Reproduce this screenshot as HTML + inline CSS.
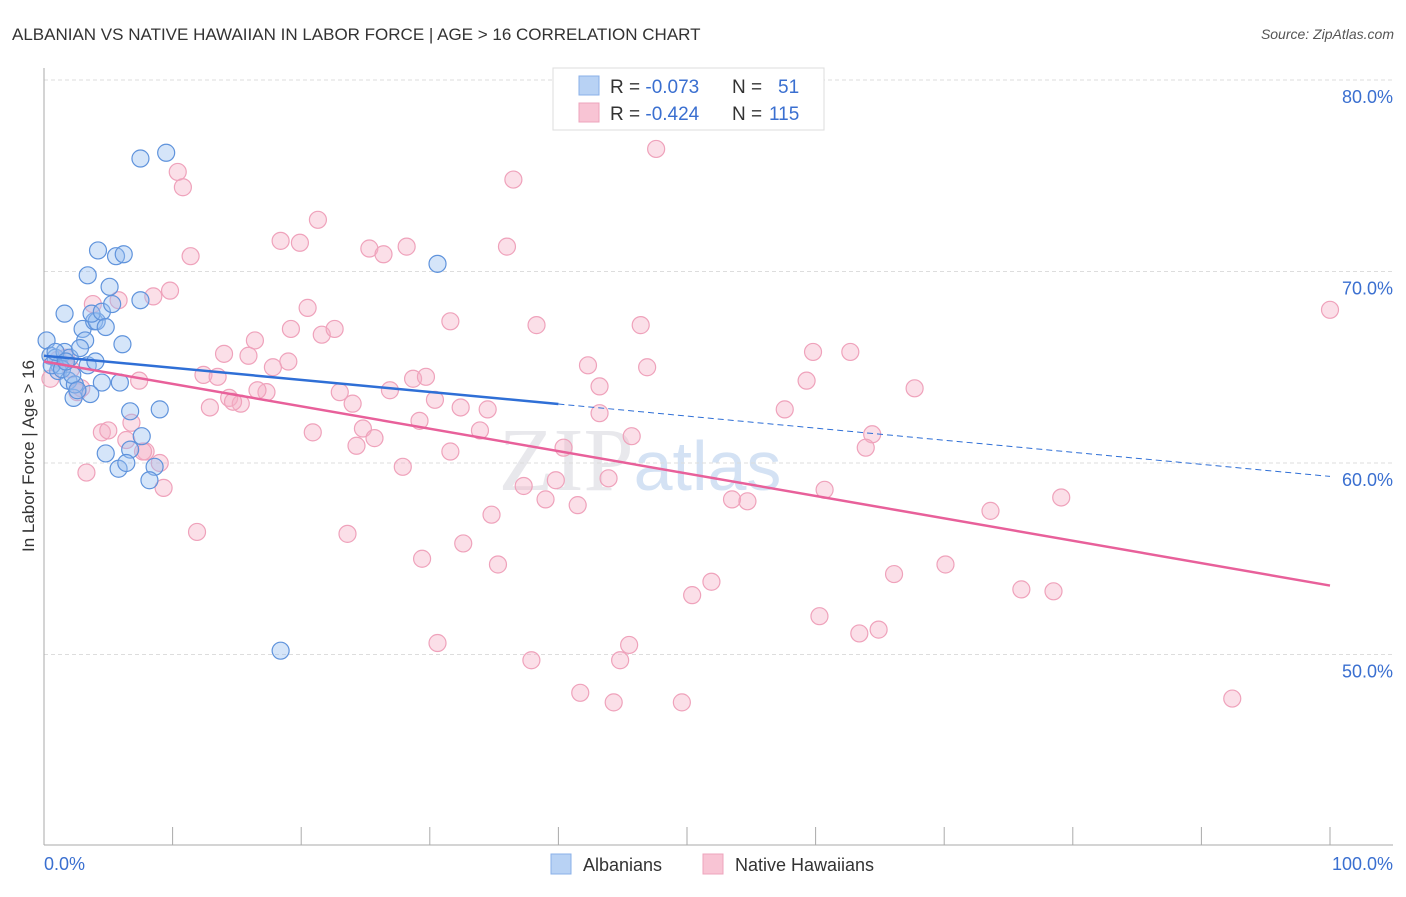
<!DOCTYPE html>
<html><head><meta charset="utf-8"><style>
body{margin:0;background:#fff;font-family:"Liberation Sans",sans-serif}
</style></head><body>
<svg id="c" width="1406" height="892" xmlns="http://www.w3.org/2000/svg">
<text x="12" y="40" font-size="17" fill="#333">ALBANIAN VS NATIVE HAWAIIAN IN LABOR FORCE | AGE &gt; 16 CORRELATION CHART</text>
<text x="1394" y="39" font-size="14" fill="#555" font-style="italic" text-anchor="end">Source: ZipAtlas.com</text>
<text x="640" y="490" font-size="90" fill="#e8e8ec" font-family="Liberation Serif,serif" text-anchor="middle">ZIP<tspan fill="#d4e2f4" font-family="Liberation Sans,sans-serif" font-size="70">atlas</tspan></text>
<text transform="translate(34,456) rotate(-90)" font-size="17" fill="#333" text-anchor="middle">In Labor Force | Age &gt; 16</text>
<g id="grid"></g><g id="axes"></g><g id="pts"></g><g id="lines"></g>
<g>
<rect x="553" y="68" width="271" height="62" fill="#fff" stroke="#ddd"/>
<rect x="579" y="76" width="20" height="19" fill="#b8d2f4" stroke="#8ab0e8"/>
<rect x="579" y="103" width="20" height="19" fill="#f8c4d4" stroke="#eea4bc"/>
<text x="610" y="93" font-size="19" fill="#333">R = <tspan fill="#3a6fd0">-0.073</tspan><tspan x="732">N = </tspan><tspan x="778" fill="#3a6fd0">51</tspan></text>
<text x="610" y="120" font-size="19" fill="#333">R = <tspan fill="#3a6fd0">-0.424</tspan><tspan x="732">N = </tspan><tspan x="769" fill="#3a6fd0">115</tspan></text>
</g>
<g>
<rect x="551" y="854" width="20" height="20" fill="#b8d2f4" stroke="#8ab0e8"/>
<text x="583" y="871" font-size="18" fill="#333">Albanians</text>
<rect x="703" y="854" width="20" height="20" fill="#f8c4d4" stroke="#eea4bc"/>
<text x="735" y="871" font-size="18" fill="#333">Native Hawaiians</text>
</g>
</svg>
<script>
const yTicks=[50,60,70,80];
const yTickLabels=["50.0%","60.0%","70.0%","80.0%"];
const xTickLabels=["0.0%","100.0%"];
const blueX=[0.2,0.5,0.9,1.2,1.1,1.6,2.0,1.9,2.3,2.4,3.0,3.2,3.4,2.8,3.9,4.1,3.7,1.6,3.4,4.2,5.6,6.2,5.1,4.5,4.8,5.3,7.5,6.1,4.0,4.5,5.9,3.6,6.7,9.0,6.7,7.6,4.8,5.8,6.4,8.6,8.2,7.5,9.5,30.6,18.4,0.6,1.4,2.2,0.9,2.6,1.7];
const blueY=[66.4,65.6,65.5,65.1,64.8,65.8,65.5,64.3,63.4,64.1,67.0,66.4,65.1,66.0,67.4,67.4,67.8,67.8,69.8,71.1,70.8,70.9,69.2,67.9,67.1,68.3,68.5,66.2,65.3,64.2,64.2,63.6,62.7,62.8,60.7,61.4,60.5,59.7,60.0,59.8,59.1,75.9,76.2,70.4,50.2,65.1,64.9,64.6,65.8,63.8,65.3];
const pinkX=[47.6,36.5,10.4,10.8,21.3,18.4,19.9,25.3,26.4,28.2,36.0,11.4,9.8,8.5,5.8,3.8,20.5,31.6,38.3,46.4,19.2,21.6,22.6,16.4,14.0,15.9,19.0,17.8,12.4,13.5,7.4,2.9,2.6,17.3,16.6,14.4,15.3,12.9,14.7,23.0,24.0,26.9,28.7,29.7,30.4,32.4,34.5,29.2,24.8,20.9,24.3,25.7,33.9,31.6,27.9,6.8,6.4,4.5,5.0,7.9,9.0,9.3,3.3,11.9,23.6,29.4,32.6,34.8,35.3,37.3,39.0,39.8,40.4,41.5,43.9,42.3,43.2,43.2,45.7,46.9,59.3,59.8,57.6,62.7,67.7,64.4,63.9,60.7,53.5,54.7,73.6,79.1,66.1,70.1,51.9,50.4,76.0,78.5,60.3,63.4,64.9,45.5,44.8,30.6,37.9,41.7,44.3,49.6,92.4,100.0,0.5,1.7,7.7,1.1,2.1];
const pinkY=[76.4,74.8,75.2,74.4,72.7,71.6,71.5,71.2,70.9,71.3,71.3,70.8,69.0,68.7,68.5,68.3,68.1,67.4,67.2,67.2,67.0,66.7,67.0,66.4,65.7,65.6,65.3,65.0,64.6,64.5,64.3,63.9,63.7,63.7,63.8,63.4,63.1,62.9,63.2,63.7,63.1,63.8,64.4,64.5,63.3,62.9,62.8,62.2,61.8,61.6,60.9,61.3,61.7,60.6,59.8,62.1,61.2,61.6,61.7,60.6,60.0,58.7,59.5,56.4,56.3,55.0,55.8,57.3,54.7,58.8,58.1,59.1,60.8,57.8,59.2,65.1,64.0,62.6,61.4,65.0,64.3,65.8,62.8,65.8,63.9,61.5,60.8,58.6,58.1,58.0,57.5,58.2,54.2,54.7,53.8,53.1,53.4,53.3,52.0,51.1,51.3,50.5,49.7,50.6,49.7,48.0,47.5,47.5,47.7,68.0,64.4,65.5,60.6,65.4,64.9];
const blueTrend=[65.6,59.3]; const blueSolidEnd=40;
const pinkTrend=[65.3,53.6];
const NS='http://www.w3.org/2000/svg';
const sx=v=>44+v*12.86, sy=v=>80+(80-v)*19.15;
function mk(t,a,p){const e=document.createElementNS(NS,t);for(const k in a)e.setAttribute(k,a[k]);document.getElementById(p).appendChild(e);return e;}
yTicks.forEach((t,i)=>{
 const g=mk('line',{x1:44,x2:1393,y1:sy(t),y2:sy(t),stroke:'#ddd','stroke-dasharray':'4,3'},'grid');
 
 
 const l=mk('text',{x:1393,y:sy(t)+23,'font-size':18,fill:'#3a6fd0','text-anchor':'end'},'grid');l.textContent=yTickLabels[i];
 
 
});
mk('line',{x1:44,x2:44,y1:68,y2:845,stroke:'#aaa'},'axes');
mk('line',{x1:44,x2:1393,y1:845,y2:845,stroke:'#aaa'},'axes');
for(let k=1;k<=10;k++){const t=mk('line',{x1:sx(k*10),x2:sx(k*10),y1:827,y2:845,stroke:'#aaa'},'axes');
 
 }
const x0=mk('text',{x:44,y:870,'font-size':18,fill:'#3a6fd0'},'axes');x0.textContent=xTickLabels[0];


const x1=mk('text',{x:1393,y:870,'font-size':18,fill:'#3a6fd0','text-anchor':'end'},'axes');x1.textContent=xTickLabels[1];


pinkX.forEach((x,i)=>{const c=mk('circle',{cx:sx(x),cy:sy(pinkY[i]),r:8.5,fill:'rgba(246,176,198,0.4)',stroke:'#efa2bb','stroke-width':1.2},'pts');
 
 });
blueX.forEach((x,i)=>{const c=mk('circle',{cx:sx(x),cy:sy(blueY[i]),r:8.5,fill:'rgba(150,190,240,0.4)',stroke:'#5f93dc','stroke-width':1.2},'pts');
 
 });
const by=x=>blueTrend[0]+(blueTrend[1]-blueTrend[0])*x/100;
const b1=mk('line',{x1:sx(0),y1:sy(by(0)),x2:sx(blueSolidEnd),y2:sy(by(blueSolidEnd)),stroke:'#2f6fd6','stroke-width':2.5},'lines');


const b2=mk('line',{x1:sx(blueSolidEnd),y1:sy(by(blueSolidEnd)),x2:sx(100),y2:sy(by(100)),stroke:'#2f6fd6','stroke-width':1,'stroke-dasharray':'6,4'},'lines');


const p1=mk('line',{x1:sx(0),y1:sy(pinkTrend[0]),x2:sx(100),y2:sy(pinkTrend[1]),stroke:'#e8609a','stroke-width':2.5},'lines');


</script>
</body></html>
